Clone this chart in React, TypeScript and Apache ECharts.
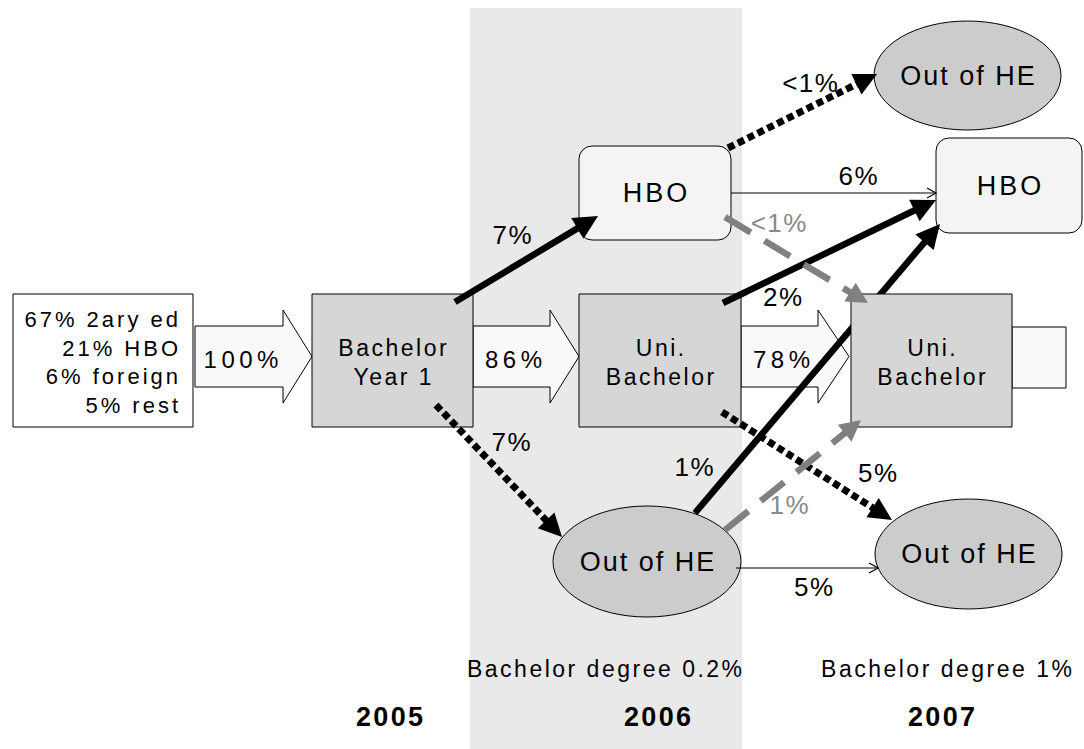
import React, { useEffect, useRef } from 'react';
import * as echarts from 'echarts';

// ---------------- data ----------------
const sourceShares = ['67% 2ary ed', '21% HBO', '6% foreign', '5% rest'];
const nodeNames = ['Bachelor\nYear 1', 'HBO', 'Uni.\nBachelor', 'Out of HE', 'HBO', 'Uni.\nBachelor', 'Out of HE', 'Out of HE'];
const mainFlows = ['100%', '86%', '78%'];
const flowShares = ['7%', '7%', '<1%', '6%', '<1%', '2%', '1%', '1%', '5%', '5%'];
const degreeShares = ['Bachelor degree 0.2%', 'Bachelor degree 1%'];
const years = ['2005', '2006', '2007'];

// ---------------- layout (diagram units on hidden axes) ----------------
const CANVAS_W = 1084;
const CANVAS_H = 749;
const BAND = [470, 8, 742, 749];
const SOURCE_BOX = [13, 294, 193, 427];
const SOURCE_TEXT_X = 178;
const SOURCE_TEXT_Y0 = 319.5;
const SOURCE_TEXT_STEP = 28.6;
const TAIL_BOX = [1012, 327, 1066, 388];
const BLOCK_ARROWS = [
  [195, 283, 312],
  [473, 550, 579],
  [741, 818, 849],
];
const BLOCK_CY = 356.5;
const BLOCK_BODY = 30.5;
const BLOCK_HEAD = 46.5;

const NODE_BOXES = [
  [312, 294, 473, 427], // Bachelor Year 1
  [579, 146, 731, 240], // HBO 2006
  [579, 294, 741, 427], // Uni 2006
  [553, 506, 741, 617], // Out 2006
  [936, 138, 1082, 233], // HBO 2007
  [851, 294, 1012, 427], // Uni 2007
  [874, 21, 1061, 130], // Out (from HBO)
  [875, 499, 1062, 609], // Out 2007
];
const NODE_KINDS = ['rect', 'round', 'rect', 'ellipse', 'round', 'rect', 'ellipse', 'ellipse'];

const EDGE_PATHS = [
  [455, 302, 598, 216],
  [436, 405, 562, 537],
  [728, 148, 877, 74],
  [731, 193, 936, 193],
  [725, 217, 868, 303],
  [723, 303, 936, 200],
  [695, 513, 940, 224],
  [725, 530, 861, 420],
  [722, 412, 892, 520],
  [736, 568, 878, 568],
];
const EDGE_KINDS = ['solid', 'dotted', 'dotted', 'thin', 'gray', 'solid', 'solid', 'gray', 'dotted', 'thin'];
const EDGE_UNDER = [false, false, false, false, false, false, true, false, false, false];
const EDGE_LABEL_AT = [
  [512, 234.5],
  [511, 442],
  [810, 82.5],
  [858, 176],
  [778.5, 223],
  [782.5, 297],
  [694, 466.5],
  [789, 505],
  [877.5, 473],
  [813.5, 587],
];
const EDGE_ORDER = ['solid', 'dotted', 'gray', 'thin'];
const DEGREE_AT = [
  [604.5, 669],
  [946.5, 669],
];
const YEAR_AT = [
  [389.5, 716.5],
  [657.5, 716.5],
  [941.5, 716.5],
];

// ---------------- styles ----------------
const FONT = '"Liberation Sans"';
const NODE_FILL: Record<string, string> = { rect: '#d6d6d6', round: '#f4f4f4', ellipse: '#cccccc' };
const NODE_FONT: Record<string, number> = { rect: 23, round: 27, ellipse: 27 };
const NODE_SPACING: Record<string, number> = { rect: 2.5, round: 3, ellipse: 2 };
const EDGE_LOOK: Record<string, any> = {
  solid: { color: '#000000', width: 6.5, dash: null, headLen: 24, headHalf: 12, open: false },
  dotted: { color: '#000000', width: 7, dash: [7, 4], headLen: 23, headHalf: 11.5, open: false },
  gray: { color: '#808080', width: 6.5, dash: [30, 16], headLen: 21, headHalf: 11, open: false },
  thin: { color: '#000000', width: 1.2, dash: null, headLen: 9, headHalf: 5, open: true },
};
const LABEL_COLOR: Record<string, string> = { solid: '#000000', dotted: '#000000', thin: '#000000', gray: '#8a8a8a' };

// letter-spacing classes (marker family names, selected by CSS)
const SPACINGS = [1.5, 2, 2.3, 2.5, 3, 4.5];
const spTag = (sp: number) => 'lsp' + String(sp).replace('.', '_') + 'x';
const CSS = SPACINGS.map((sp) => `.flow-chart text[style*="${spTag(sp)}"] { letter-spacing: ${sp}px; }`).join('\n');

function textEl(api: any, x: number, y: number, text: string, size: number, opts: any = {}) {
  const sp = opts.sp || 0;
  const align = opts.align || 'center';
  const shift = align === 'center' ? sp / 2 : align === 'right' ? sp : 0;
  const p = api.coord([x + shift, y]);
  const family = sp ? `${FONT}, ${spTag(sp)}, sans-serif` : `${FONT}, sans-serif`;
  return {
    type: 'text',
    x: p[0],
    y: p[1],
    style: {
      text,
      fill: opts.color || '#000000',
      font: `${opts.bold ? 'bold ' : ''}${size}px ${family}`,
      align,
      verticalAlign: 'middle',
      textAlign: align,
      textVerticalAlign: 'middle',
    },
  };
}

function rectShape(api: any, box: number[]) {
  const a = api.coord([box[0], box[1]]);
  const b = api.coord([box[2], box[3]]);
  return { x: a[0], y: a[1], width: b[0] - a[0], height: b[1] - a[1] };
}

function edgeElements(api: any, i: number, part: 'line' | 'head' | 'all') {
  const [fx, fy, tx, ty] = EDGE_PATHS[i];
  const look = EDGE_LOOK[EDGE_KINDS[i]];
  const a = api.coord([fx, fy]);
  const b = api.coord([tx, ty]);
  const dx = b[0] - a[0];
  const dy = b[1] - a[1];
  const len = Math.hypot(dx, dy);
  const ux = dx / len;
  const uy = dy / len;
  const nx = -uy;
  const ny = ux;
  const bx = b[0] - ux * look.headLen;
  const by = b[1] - uy * look.headLen;
  const h = look.headHalf;
  const els: any[] = [];
  if (part !== 'head') {
    const ex = look.open ? b[0] : bx + ux * 1;
    const ey = look.open ? b[1] : by + uy * 1;
    els.push({
      type: 'line',
      shape: { x1: a[0], y1: a[1], x2: ex, y2: ey },
      style: { stroke: look.color, lineWidth: look.width, lineDash: look.dash, lineCap: 'butt', fill: 'none' },
    });
  }
  if (part !== 'line') {
    if (look.open) {
      els.push({
        type: 'polyline',
        shape: { points: [[bx + nx * h, by + ny * h], [b[0], b[1]], [bx - nx * h, by - ny * h]] },
        style: { stroke: look.color, lineWidth: 1.2, fill: 'none' },
      });
    } else {
      els.push({
        type: 'polygon',
        shape: { points: [[b[0], b[1]], [bx + nx * h, by + ny * h], [bx - nx * h, by - ny * h]] },
        style: { fill: look.color, stroke: 'none' },
      });
    }
  }
  return els;
}

function sortedEdges() {
  const idx = flowShares.map((_, i) => i);
  return idx.sort((p, q) => EDGE_ORDER.indexOf(EDGE_KINDS[p]) - EDGE_ORDER.indexOf(EDGE_KINDS[q]));
}

export default function App() {
  const ref = useRef<HTMLDivElement>(null);

  useEffect(() => {
    if (!ref.current) return;
    const chart = echarts.init(ref.current, undefined, { renderer: 'svg' });

    const option: any = {
      animation: false,
      backgroundColor: '#ffffff',
      grid: { left: 0, right: 0, top: 0, bottom: 0 },
      xAxis: { type: 'value', min: 0, max: CANVAS_W, show: false },
      yAxis: { type: 'value', min: 0, max: CANVAS_H, inverse: true, show: false },
      series: [
        // background band for 2006
        {
          type: 'custom',
          z: 0,
          silent: true,
          data: [[0, 0]],
          renderItem: (_p: any, api: any) => ({
            type: 'rect',
            shape: rectShape(api, BAND),
            style: { fill: '#e9e9e9', stroke: 'none' },
          }),
        },
        // source box + main block arrows + tail
        {
          type: 'custom',
          z: 1,
          silent: true,
          data: [[0, 0]],
          renderItem: (_p: any, api: any) => {
            const children: any[] = [];
            children.push({
              type: 'rect',
              shape: rectShape(api, SOURCE_BOX),
              style: { fill: '#ffffff', stroke: '#000000', lineWidth: 1 },
            });
            sourceShares.forEach((t, i) => {
              children.push(
                textEl(api, SOURCE_TEXT_X, SOURCE_TEXT_Y0 + i * SOURCE_TEXT_STEP, t, 22, { align: 'right', sp: 3 })
              );
            });
            BLOCK_ARROWS.forEach(([x0, xh, x1], i) => {
              const pts = [
                [x0, BLOCK_CY - BLOCK_BODY],
                [xh, BLOCK_CY - BLOCK_BODY],
                [xh, BLOCK_CY - BLOCK_HEAD],
                [x1, BLOCK_CY],
                [xh, BLOCK_CY + BLOCK_HEAD],
                [xh, BLOCK_CY + BLOCK_BODY],
                [x0, BLOCK_CY + BLOCK_BODY],
              ].map((q) => api.coord(q));
              children.push({
                type: 'polygon',
                shape: { points: pts },
                style: { fill: '#f9f9f9', stroke: '#000000', lineWidth: 1 },
              });
              children.push(textEl(api, (x0 + xh) / 2 + 2, BLOCK_CY + 2.5, mainFlows[i], 24, { sp: 4.5 }));
            });
            children.push({
              type: 'rect',
              shape: rectShape(api, TAIL_BOX),
              style: { fill: '#f9f9f9', stroke: '#000000', lineWidth: 1 },
            });
            return { type: 'group', children };
          },
        },
        // edges drawn beneath nodes (line part)
        {
          type: 'custom',
          z: 2,
          silent: true,
          data: [[0, 0]],
          renderItem: (_p: any, api: any) => {
            const children: any[] = [];
            sortedEdges().forEach((i) => {
              if (EDGE_UNDER[i]) children.push(...edgeElements(api, i, 'line'));
            });
            return { type: 'group', children };
          },
        },
        // nodes
        {
          type: 'custom',
          z: 3,
          silent: true,
          data: nodeNames.map((_, i) => [i, 0]),
          renderItem: (params: any, api: any) => {
            const i = params.dataIndex;
            const box = NODE_BOXES[i];
            const kind = NODE_KINDS[i];
            const children: any[] = [];
            if (kind === 'ellipse') {
              const c = api.coord([(box[0] + box[2]) / 2, (box[1] + box[3]) / 2]);
              const e = api.coord([box[2], box[3]]);
              children.push({
                type: 'ellipse',
                shape: { cx: c[0], cy: c[1], rx: e[0] - c[0], ry: e[1] - c[1] },
                style: { fill: NODE_FILL[kind], stroke: '#000000', lineWidth: 1 },
              });
            } else {
              const s: any = rectShape(api, box);
              if (kind === 'round') s.r = 13;
              children.push({
                type: 'rect',
                shape: s,
                style: { fill: NODE_FILL[kind], stroke: '#000000', lineWidth: 1 },
              });
            }
            const lines = nodeNames[i].split('\n');
            const cx = (box[0] + box[2]) / 2;
            const cy = (box[1] + box[3]) / 2 + (lines.length > 1 ? 2 : 0);
            lines.forEach((ln, k) => {
              children.push(
                textEl(api, cx, cy + (k - (lines.length - 1) / 2) * 29, ln, NODE_FONT[kind], { sp: NODE_SPACING[kind] })
              );
            });
            return { type: 'group', children };
          },
        },
        // edges above nodes
        {
          type: 'custom',
          z: 4,
          silent: true,
          data: [[0, 0]],
          renderItem: (_p: any, api: any) => {
            const children: any[] = [];
            sortedEdges().forEach((i) => {
              children.push(...edgeElements(api, i, EDGE_UNDER[i] ? 'head' : 'all'));
            });
            return { type: 'group', children };
          },
        },
        // flow labels, degree notes and years
        {
          type: 'custom',
          z: 5,
          silent: true,
          data: [[0, 0]],
          renderItem: (_p: any, api: any) => {
            const children: any[] = [];
            flowShares.forEach((t, i) => {
              const [x, y] = EDGE_LABEL_AT[i];
              children.push(textEl(api, x, y, t, 26, { color: LABEL_COLOR[EDGE_KINDS[i]], sp: 1.5 }));
            });
            degreeShares.forEach((t, i) => {
              children.push(textEl(api, DEGREE_AT[i][0], DEGREE_AT[i][1], t, 23, { sp: 2.5 }));
            });
            years.forEach((t, i) => {
              children.push(textEl(api, YEAR_AT[i][0], YEAR_AT[i][1], t, 27, { bold: true, sp: 2.3 }));
            });
            return { type: 'group', children };
          },
        },
      ],
    };

    chart.setOption(option);
    return () => {
      chart.dispose();
    };
  }, []);

  return (
    <>
      <style>{CSS}</style>
      <div
        ref={ref}
        className="flow-chart"
        style={{ position: 'absolute', left: 0, top: 0, width: CANVAS_W, height: CANVAS_H, background: '#ffffff' }}
      />
    </>
  );
}
